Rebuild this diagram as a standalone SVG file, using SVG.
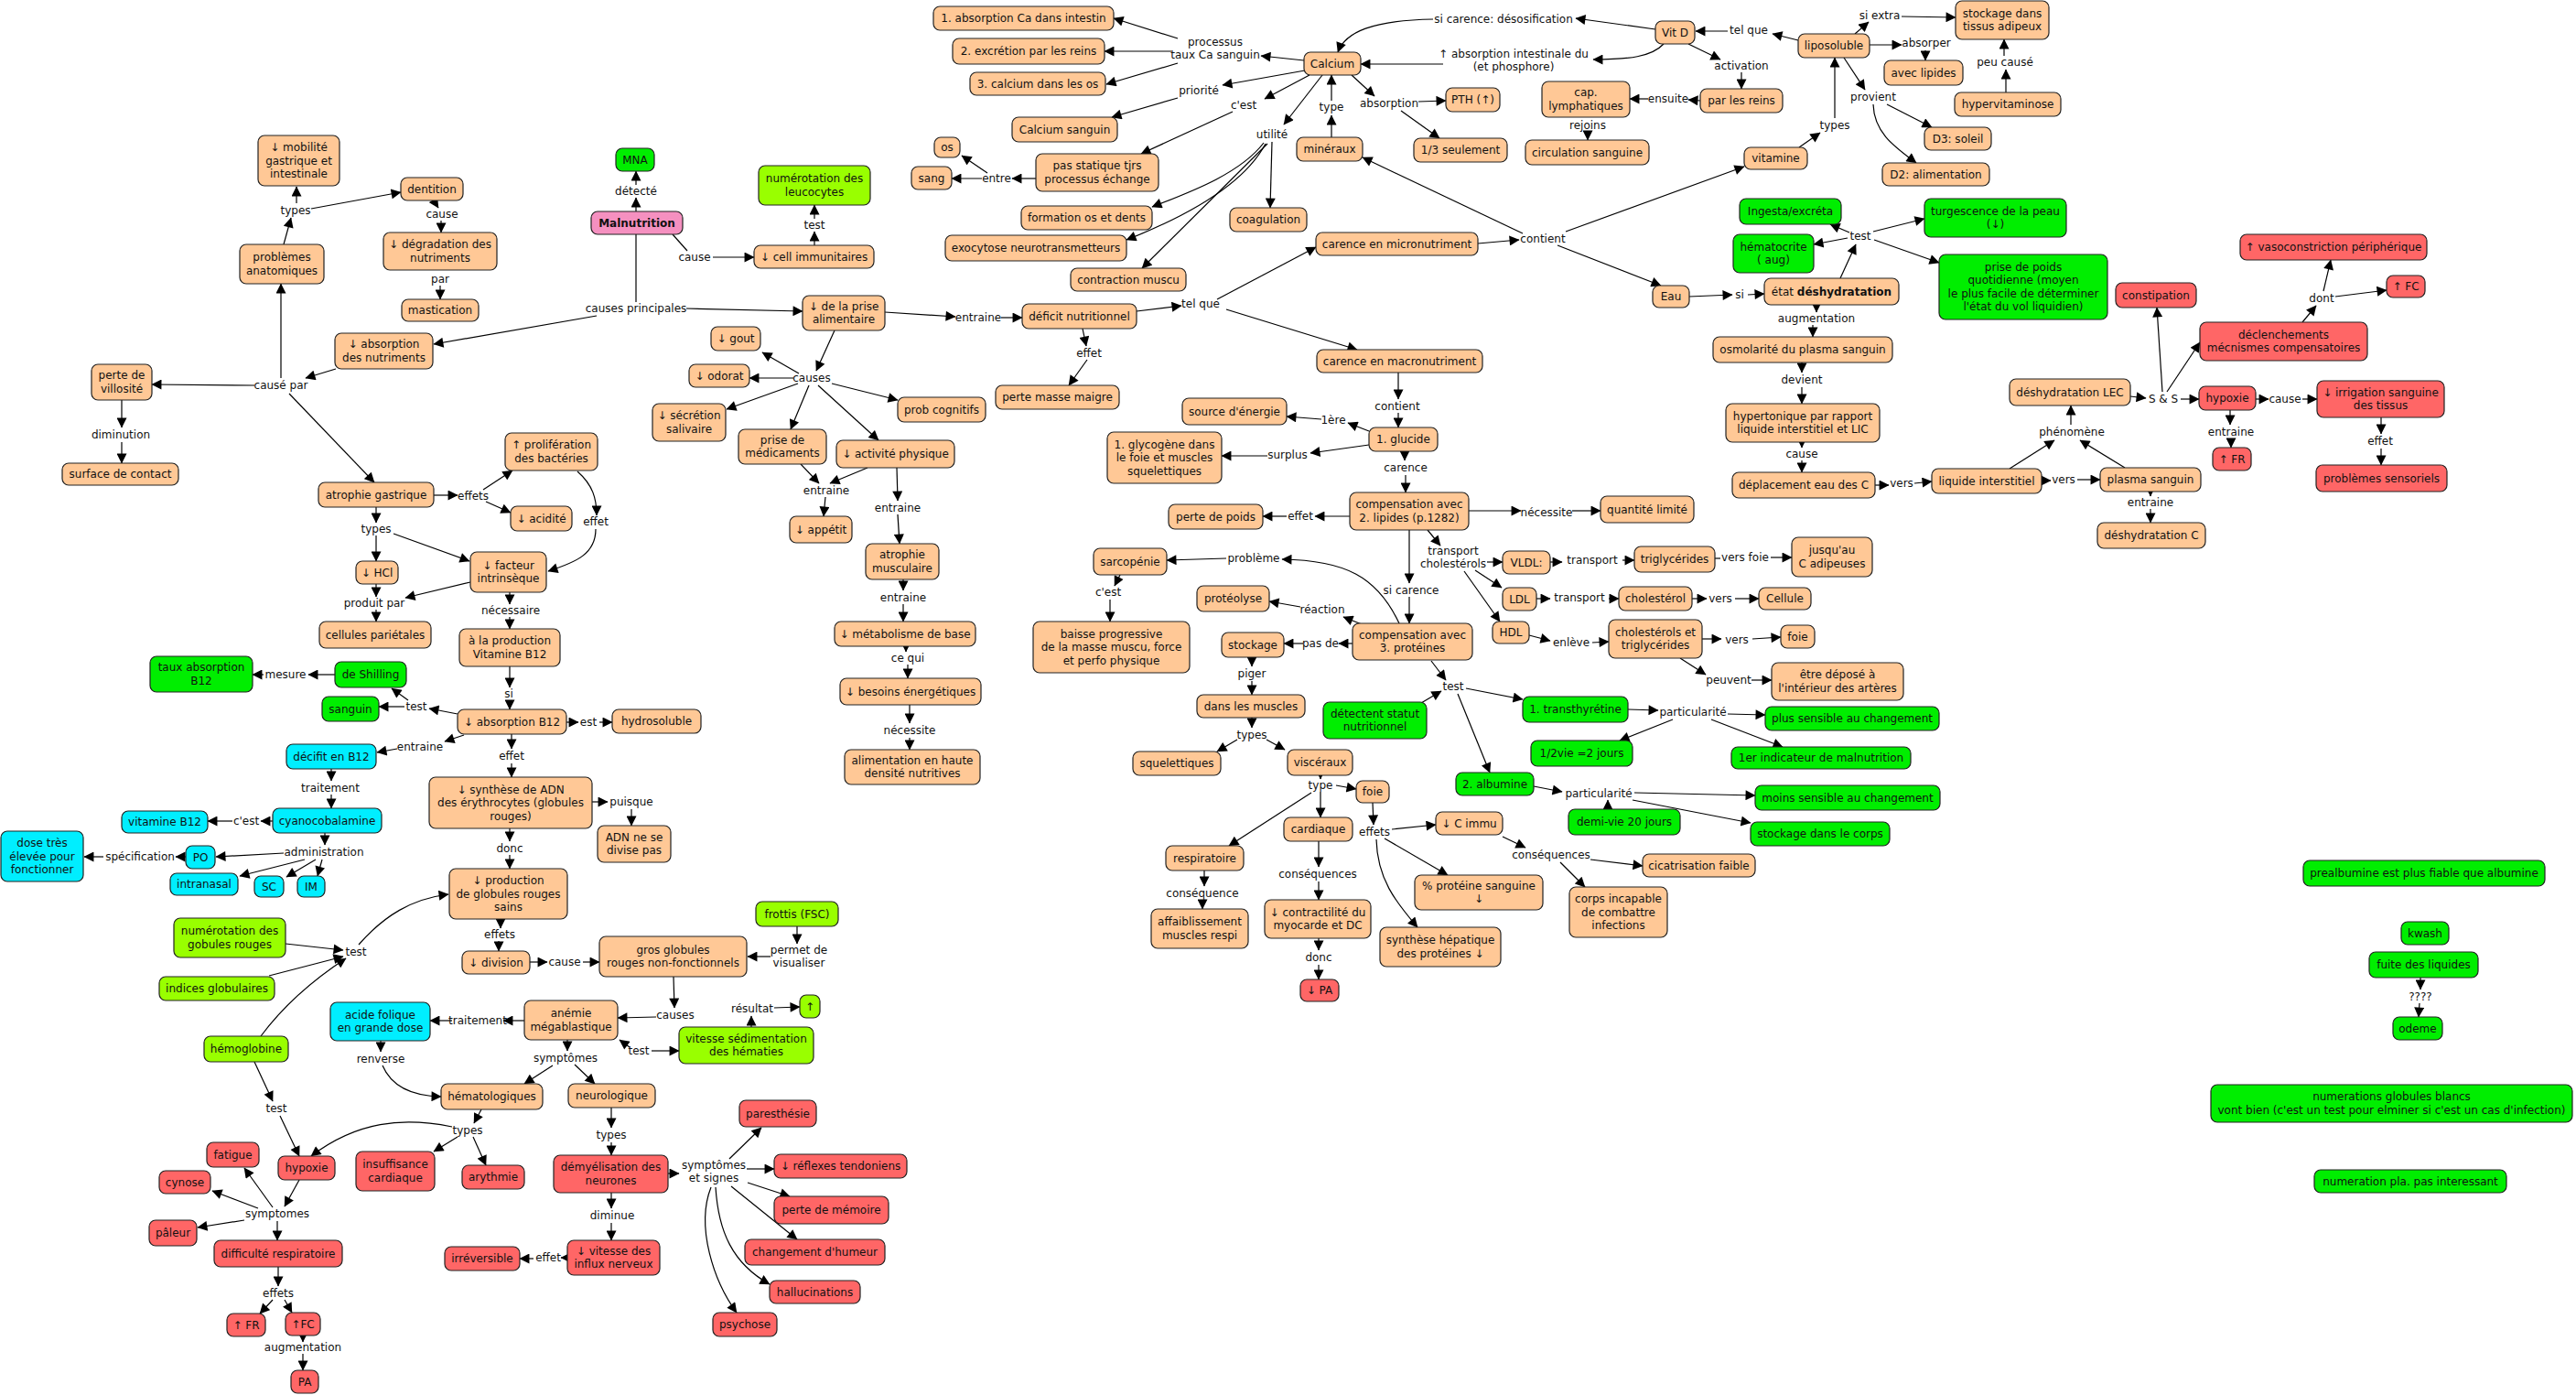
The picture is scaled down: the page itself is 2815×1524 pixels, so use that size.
<svg xmlns="http://www.w3.org/2000/svg" width="2815" height="1524" viewBox="0 0 2815 1524">
<style>
text{font-family:"DejaVu Sans",Verdana,sans-serif;font-size:12px;fill:#111;text-anchor:middle}
rect{stroke:#222;stroke-width:1.2;rx:7px;ry:7px}
.o{fill:#FFC896}.g{fill:#00EE00}.l{fill:#99FF00}.c{fill:#00EEFF}.r{fill:#FF6666}.p{fill:#F590C0}
.b{font-weight:bold}
#conn path{fill:none;stroke:#000;stroke-width:1.2;marker-end:url(#ah)}
#conn path.n{marker-end:none}
</style>
<defs>
<marker id="ah" viewBox="0 0 10 10" refX="9.5" refY="5" markerWidth="12" markerHeight="11" markerUnits="userSpaceOnUse" orient="auto"><path d="M0,0L10,5L0,10z" fill="#000"/></marker>
</defs>
<rect x="0" y="0" width="2815" height="1524" style="fill:#fff;stroke:none;rx:0"/>
<g id="conn">
<path d="M310,267L318,238"/>
<path d="M324,222L324,204"/>
<path d="M340,228L438,210"/>
<path d="M474,219L479,227"/>
<path d="M482,241L482,254"/>
<path d="M481,312L481,327"/>
<path d="M695,231L695,216"/>
<path d="M695,202L695,187"/>
<path class="n" d="M695,256L695,330"/>
<path d="M652,345L474,376"/>
<path d="M750,337L877,340"/>
<path d="M367,403L334,413"/>
<path d="M307,413L307,310"/>
<path d="M278,421L166,420"/>
<path d="M316,430L409,527"/>
<path d="M133,437L133,467"/>
<path d="M133,483L133,506"/>
<path d="M474,541L500,541"/>
<path d="M528,535L560,514"/>
<path d="M531,548L558,560"/>
<path d="M631,515C648,530 652,545 652,563"/>
<path d="M651,578C651,605 630,614 599,624"/>
<path d="M411,554L411,571"/>
<path d="M411,585L411,613"/>
<path d="M430,583L513,613"/>
<path d="M411,638L411,652"/>
<path d="M514,636L443,653"/>
<path d="M411,666L411,679"/>
<path d="M557,647L557,660"/>
<path d="M557,674L557,687"/>
<path d="M557,728L557,751"/>
<path d="M557,765L557,775"/>
<path d="M619,789L632,789"/>
<path d="M655,789L669,789"/>
<path d="M500,780L469,774"/>
<path d="M442,772L414,772"/>
<path d="M446,765L428,752"/>
<path d="M366,737L337,737"/>
<path d="M288,737L276,737"/>
<path d="M507,803L486,810"/>
<path d="M434,818L412,822"/>
<path d="M362,840L362,853"/>
<path d="M362,868L362,883"/>
<path d="M298,897L285,897"/>
<path d="M254,897L227,897"/>
<path d="M355,910L355,923"/>
<path d="M310,932L236,936"/>
<path d="M333,939L262,957"/>
<path d="M345,939L313,958"/>
<path d="M352,939L347,957"/>
<path d="M203,936L192,936"/>
<path d="M113,936L92,936"/>
<path d="M559,802L559,818"/>
<path d="M559,834L559,849"/>
<path d="M647,876L664,876"/>
<path d="M690,884L690,902"/>
<path d="M557,905L557,919"/>
<path d="M557,934L557,949"/>
<path d="M392,1032C420,1000 450,982 490,977"/>
<path d="M312,1031L375,1038"/>
<path d="M294,1066L375,1045"/>
<path d="M285,1132Q320,1085 378,1047"/>
<path d="M278,1160L298,1203"/>
<path d="M306,1219L327,1263"/>
<path d="M547,1004L547,1014"/>
<path d="M545,1028L545,1039"/>
<path d="M579,1051L598,1051"/>
<path d="M637,1051L655,1051"/>
<path d="M871,1012L871,1031"/>
<path d="M842,1045L817,1045"/>
<path d="M736,1067L737,1101"/>
<path d="M717,1111L675,1112"/>
<path d="M712,1148L742,1148"/>
<path d="M688,1144L677,1136"/>
<path d="M821,1122L821,1110"/>
<path d="M846,1101L874,1100"/>
<path d="M573,1115L550,1115"/>
<path d="M494,1115L470,1115"/>
<path d="M416,1137L416,1149"/>
<path d="M418,1164Q432,1197 482,1198"/>
<path d="M620,1136L620,1148"/>
<path d="M604,1164L573,1184"/>
<path d="M628,1163L650,1184"/>
<path d="M526,1212L518,1227"/>
<path d="M494,1231C440,1220 390,1225 340,1263"/>
<path d="M500,1242L474,1258"/>
<path d="M517,1242L531,1273"/>
<path d="M327,1289L311,1318"/>
<path d="M298,1319L267,1276"/>
<path d="M282,1320L232,1301"/>
<path d="M267,1333L216,1341"/>
<path d="M303,1334L303,1355"/>
<path d="M304,1384L304,1405"/>
<path d="M298,1420L284,1435"/>
<path d="M311,1420L319,1434"/>
<path d="M331,1459L331,1466"/>
<path d="M331,1479L331,1497"/>
<path d="M668,1210L668,1232"/>
<path d="M668,1248L668,1262"/>
<path d="M668,1303L668,1320"/>
<path d="M668,1336L668,1355"/>
<path d="M620,1374L613,1374"/>
<path d="M583,1375L568,1375"/>
<path d="M730,1282L742,1282"/>
<path d="M797,1266L832,1232"/>
<path d="M816,1277L846,1277"/>
<path d="M817,1292L863,1307"/>
<path d="M799,1296L871,1354"/>
<path d="M782,1297C785,1345 800,1380 841,1403"/>
<path d="M777,1297C760,1340 780,1400 805,1434"/>
<path class="n" d="M735,256L751,274"/>
<path d="M779,281L824,281"/>
<path d="M890,268L890,253"/>
<path d="M890,239L890,224"/>
<path d="M967,341L1044,346"/>
<path d="M1094,347L1117,347"/>
<path d="M1242,340L1291,334"/>
<path d="M1183,359L1187,378"/>
<path d="M1188,393L1168,421"/>
<path d="M912,361L892,405"/>
<path d="M873,408L833,385"/>
<path d="M867,413L819,413"/>
<path d="M872,419L794,447"/>
<path d="M884,421L864,469"/>
<path d="M909,419L981,437"/>
<path d="M894,421L960,481"/>
<path d="M875,507L895,528"/>
<path d="M948,511L907,528"/>
<path d="M902,543L900,564"/>
<path d="M980,511L981,547"/>
<path d="M981,562L983,594"/>
<path d="M987,633L987,645"/>
<path d="M987,660L987,679"/>
<path d="M990,706L990,712"/>
<path d="M992,726L992,741"/>
<path d="M994,770L994,790"/>
<path d="M994,806L994,819"/>
<path d="M1425,66L1378,61"/>
<path d="M1287,42L1217,20"/>
<path d="M1280,56L1207,56"/>
<path d="M1287,69L1209,92"/>
<path d="M1426,77L1336,93"/>
<path d="M1287,107L1215,128"/>
<path d="M1431,82L1382,108"/>
<path d="M1347,122L1247,168"/>
<path d="M1132,195L1106,195"/>
<path d="M1073,195L1040,195"/>
<path d="M1079,189L1051,170"/>
<path d="M1445,82L1403,136"/>
<path d="M1381,156C1355,190 1300,210 1259,226"/>
<path d="M1383,157C1360,200 1300,235 1231,262"/>
<path d="M1385,157L1248,293"/>
<path d="M1390,155L1388,227"/>
<path d="M1455,150L1455,126"/>
<path d="M1455,110L1455,82"/>
<path d="M1477,82L1502,105"/>
<path d="M1550,111L1580,110"/>
<path d="M1531,121L1573,151"/>
<path d="M1809,32L1722,20"/>
<path d="M1566,21C1500,22 1470,35 1462,57"/>
<path d="M1818,48C1805,62 1780,65 1741,65"/>
<path d="M1577,70L1487,70"/>
<path d="M1845,48L1880,65"/>
<path d="M1903,79L1903,97"/>
<path d="M1858,110L1845,109"/>
<path d="M1801,108L1781,108"/>
<path d="M1735,144L1735,153"/>
<path d="M1965,44L1937,37"/>
<path d="M1888,34L1853,34"/>
<path d="M2027,37L2042,24"/>
<path d="M2078,18L2137,19"/>
<path d="M2043,49L2078,49"/>
<path d="M2104,55L2104,66"/>
<path d="M2192,101L2192,76"/>
<path d="M2190,61L2190,43"/>
<path d="M2015,63L2038,98"/>
<path d="M2062,114L2111,139"/>
<path d="M2047,114C2048,145 2070,160 2094,178"/>
<path d="M1966,161L1989,145"/>
<path d="M2005,129L2005,63"/>
<path d="M1615,266L1660,262"/>
<path d="M1664,255L1489,172"/>
<path d="M1711,253L1906,182"/>
<path d="M1702,268L1815,312"/>
<path d="M1330,327L1438,270"/>
<path d="M1340,338L1483,382"/>
<path d="M1846,324L1893,322"/>
<path d="M1910,322L1928,321"/>
<path d="M2011,304L2028,267"/>
<path d="M2021,254L2000,245"/>
<path d="M2019,260L1982,267"/>
<path d="M2047,253L2103,239"/>
<path d="M2048,262L2119,287"/>
<path d="M1985,333L1985,341"/>
<path d="M1981,355L1981,368"/>
<path d="M1969,396L1969,407"/>
<path d="M1969,423L1969,441"/>
<path d="M1969,483L1969,489"/>
<path d="M1969,503L1969,516"/>
<path d="M2049,530L2064,530"/>
<path d="M2092,528L2111,526"/>
<path d="M2231,525L2241,525"/>
<path d="M2270,524L2295,524"/>
<path d="M2350,537L2350,542"/>
<path d="M2350,556L2350,571"/>
<path d="M2196,512L2245,481"/>
<path d="M2322,511L2273,481"/>
<path d="M2263,464L2263,443"/>
<path d="M2328,433L2345,435"/>
<path d="M2383,436L2403,436"/>
<path d="M2368,428L2404,374"/>
<path d="M2363,428L2357,336"/>
<path d="M2465,436L2479,436"/>
<path d="M2516,436L2532,436"/>
<path d="M2437,448L2437,464"/>
<path d="M2438,480L2438,489"/>
<path d="M2602,456L2602,474"/>
<path d="M2602,490L2602,508"/>
<path d="M2516,352L2531,334"/>
<path d="M2539,318L2547,284"/>
<path d="M2552,324L2608,317"/>
<path d="M1528,407L1528,436"/>
<path d="M1528,451L1528,467"/>
<path d="M1496,471L1473,462"/>
<path d="M1444,458L1406,455"/>
<path d="M1496,486L1432,495"/>
<path d="M1385,498L1335,498"/>
<path d="M1535,493L1535,503"/>
<path d="M1536,519L1536,538"/>
<path d="M1475,564L1437,564"/>
<path d="M1406,564L1380,564"/>
<path d="M1605,558L1662,558"/>
<path d="M1718,558L1749,558"/>
<path d="M1560,579L1574,596"/>
<path d="M1625,614L1642,614"/>
<path d="M1612,623L1641,642"/>
<path d="M1600,624L1639,679"/>
<path d="M1694,614L1707,614"/>
<path d="M1773,612L1786,612"/>
<path class="n" d="M1874,610L1880,610"/>
<path d="M1935,609L1958,609"/>
<path d="M1679,654L1694,654"/>
<path d="M1758,654L1769,654"/>
<path d="M1849,654L1865,654"/>
<path d="M1896,654L1922,654"/>
<path d="M1671,694L1694,700"/>
<path d="M1740,702L1758,701"/>
<path d="M1860,698L1881,698"/>
<path d="M1915,698L1946,696"/>
<path d="M1836,719L1864,737"/>
<path d="M1914,743L1936,743"/>
<path d="M1540,579L1540,637"/>
<path d="M1540,652L1540,681"/>
<path d="M1529,681C1505,630 1470,612 1401,611"/>
<path d="M1340,610L1275,612"/>
<path d="M1224,628L1218,640"/>
<path d="M1213,655L1213,679"/>
<path d="M1488,682L1468,674"/>
<path d="M1421,663L1387,657"/>
<path d="M1478,703L1463,703"/>
<path d="M1424,703L1403,703"/>
<path d="M1368,718L1368,728"/>
<path d="M1368,744L1368,759"/>
<path d="M1368,784L1368,795"/>
<path d="M1352,808L1330,821"/>
<path d="M1384,808L1404,819"/>
<path d="M1443,847L1443,851"/>
<path d="M1460,858L1482,862"/>
<path d="M1443,865L1443,893"/>
<path d="M1433,866L1343,924"/>
<path d="M1316,951L1316,968"/>
<path d="M1314,984L1314,993"/>
<path d="M1441,919L1441,947"/>
<path d="M1441,963L1441,983"/>
<path d="M1441,1025L1441,1038"/>
<path d="M1441,1054L1441,1070"/>
<path d="M1500,877L1501,901"/>
<path d="M1521,906L1569,901"/>
<path d="M1513,916L1582,956"/>
<path d="M1504,917C1505,960 1525,985 1549,1013"/>
<path d="M1642,914L1667,926"/>
<path d="M1738,939L1795,946"/>
<path d="M1705,942L1732,969"/>
<path d="M1564,722L1580,743"/>
<path d="M1553,768L1575,755"/>
<path d="M1602,752L1664,764"/>
<path d="M1593,758L1628,844"/>
<path d="M1779,775L1812,776"/>
<path d="M1888,780L1929,781"/>
<path d="M1828,786L1770,809"/>
<path d="M1870,786L1948,816"/>
<path d="M1676,859L1707,865"/>
<path d="M1786,866L1918,869"/>
<path d="M1757,884L1757,874"/>
<path d="M1784,874L1913,899"/>
<path d="M2645,1068L2645,1081"/>
<path d="M2644,1096L2643,1111"/>
</g>
<g id="labels">
<text x="323" y="234">types</text>
<text x="483" y="238">cause</text>
<text x="481" y="309">par</text>
<text x="695" y="213">détecté</text>
<text x="307" y="425">causé par</text>
<text x="132" y="479">diminution</text>
<text x="517" y="546">effets</text>
<text x="695" y="341">causes principales</text>
<text x="651" y="574">effet</text>
<text x="411" y="582">types</text>
<text x="409" y="663">produit par</text>
<text x="558" y="671">nécessaire</text>
<text x="312" y="741">mesure</text>
<text x="455" y="776">test</text>
<text x="556" y="762">si</text>
<text x="643" y="793">est</text>
<text x="459" y="820">entraine</text>
<text x="559" y="830">effet</text>
<text x="361" y="865">traitement</text>
<text x="269" y="901">c'est</text>
<text x="690" y="880">puisque</text>
<text x="354" y="935">administration</text>
<text x="153" y="940">spécification</text>
<text x="557" y="931">donc</text>
<text x="389" y="1044">test</text>
<text x="546" y="1025">effets</text>
<text x="617" y="1055">cause</text>
<text x="873" y="1041.75">permet de<tspan x="873" dy="14.5">visualiser</tspan></text>
<text x="738" y="1113">causes</text>
<text x="822" y="1106">résultat</text>
<text x="522" y="1119">traitement</text>
<text x="416" y="1161">renverse</text>
<text x="618" y="1160">symptômes</text>
<text x="698" y="1152">test</text>
<text x="302" y="1215">test</text>
<text x="511" y="1239">types</text>
<text x="668" y="1244">types</text>
<text x="303" y="1330">symptomes</text>
<text x="669" y="1332">diminue</text>
<text x="599" y="1378">effet</text>
<text x="304" y="1417">effets</text>
<text x="331" y="1476">augmentation</text>
<text x="780" y="1276.75">symptômes<tspan x="780" dy="14.5">et signes</tspan></text>
<text x="759" y="285">cause</text>
<text x="890" y="250">test</text>
<text x="1069" y="351">entraine</text>
<text x="1312" y="336">tel que</text>
<text x="1190" y="390">effet</text>
<text x="887" y="417">causes</text>
<text x="903" y="540">entraine</text>
<text x="981" y="559">entraine</text>
<text x="987" y="657">entraine</text>
<text x="992" y="723">ce qui</text>
<text x="994" y="802">nécessite</text>
<text x="1211" y="651">c'est</text>
<text x="1368" y="740">piger</text>
<text x="1368" y="807">types</text>
<text x="1328" y="49.75">processus<tspan x="1328" dy="14.5">taux Ca sanguin</tspan></text>
<text x="1643" y="25">si carence: désosification</text>
<text x="1654" y="62.75">↑ absorption intestinale du<tspan x="1654" dy="14.5">(et phosphore)</tspan></text>
<text x="1310" y="103">priorité</text>
<text x="1359" y="119">c'est</text>
<text x="1455" y="121">type</text>
<text x="1518" y="117">absorption</text>
<text x="1823" y="112">ensuite</text>
<text x="1735" y="141">rejoins</text>
<text x="1390" y="151">utilité</text>
<text x="1089" y="199">entre</text>
<text x="1686" y="265">contient</text>
<text x="1527" y="448">contient</text>
<text x="1457" y="463">1ère</text>
<text x="1407" y="501">surplus</text>
<text x="1536" y="515">carence</text>
<text x="1421" y="568">effet</text>
<text x="1690" y="564">nécessite</text>
<text x="1588" y="605.75">transport<tspan x="1588" dy="14.5">cholestérols</tspan></text>
<text x="1740" y="616">transport</text>
<text x="1907" y="613">vers foie</text>
<text x="1370" y="614">problème</text>
<text x="1542" y="649">si carence</text>
<text x="1726" y="657">transport</text>
<text x="1880" y="658">vers</text>
<text x="1445" y="670">réaction</text>
<text x="1717" y="706">enlève</text>
<text x="1898" y="703">vers</text>
<text x="1889" y="747">peuvent</text>
<text x="1443" y="707">pas de</text>
<text x="1588" y="754">test</text>
<text x="1850" y="782">particularité</text>
<text x="1747" y="871">particularité</text>
<text x="1443" y="862">type</text>
<text x="1502" y="913">effets</text>
<text x="1440" y="959">conséquences</text>
<text x="1314" y="980">conséquence</text>
<text x="1695" y="938">conséquences</text>
<text x="1441" y="1050">donc</text>
<text x="1911" y="37">tel que</text>
<text x="2054" y="21">si extra</text>
<text x="2105" y="51">absorper</text>
<text x="2191" y="72">peu causé</text>
<text x="1903" y="76">activation</text>
<text x="2047" y="110">provient</text>
<text x="2005" y="141">types</text>
<text x="2033" y="262">test</text>
<text x="1901" y="326">si</text>
<text x="1985" y="352">augmentation</text>
<text x="1969" y="419">devient</text>
<text x="1969" y="500">cause</text>
<text x="2078" y="532">vers</text>
<text x="2255" y="528">vers</text>
<text x="2350" y="553">entraine</text>
<text x="2264" y="476">phénomène</text>
<text x="2364" y="440">S &amp; S</text>
<text x="2438" y="476">entraine</text>
<text x="2497" y="440">cause</text>
<text x="2601" y="486">effet</text>
<text x="2537" y="330">dont</text>
<text x="2645" y="1093">????</text>
</g>
<g id="n_mob"><rect class="o" x="282" y="148" width="89" height="55"/><text x="326.5" y="165">↓ mobilité<tspan x="326.5" dy="14.5">gastrique et</tspan><tspan x="326.5" dy="14.5">intestinale</tspan></text></g>
<g id="n_dent"><rect class="o" x="438" y="194" width="68" height="25"/><text x="472" y="210.5">dentition</text></g>
<g id="n_degr"><rect class="o" x="419" y="254" width="124" height="41"/><text x="481" y="271">↓ dégradation des<tspan x="481" dy="14.5">nutriments</tspan></text></g>
<g id="n_mast"><rect class="o" x="439" y="327" width="84" height="24"/><text x="481" y="343">mastication</text></g>
<g id="n_prob"><rect class="o" x="262" y="267" width="92" height="43"/><text x="308" y="285">problèmes<tspan x="308" dy="14.5">anatomiques</tspan></text></g>
<g id="n_absn"><rect class="o" x="366" y="364" width="107" height="39"/><text x="419.5" y="380">↓ absorption<tspan x="419.5" dy="14.5">des nutriments</tspan></text></g>
<g id="n_vill"><rect class="o" x="100" y="398" width="66" height="39"/><text x="133" y="414">perte de<tspan x="133" dy="14.5">villosité</tspan></text></g>
<g id="n_surf"><rect class="o" x="68" y="506" width="127" height="24"/><text x="131.5" y="522">surface de contact</text></g>
<g id="n_atrg"><rect class="o" x="348" y="527" width="126" height="27"/><text x="411" y="544.5">atrophie gastrique</text></g>
<g id="n_prol"><rect class="o" x="552" y="473" width="101" height="41"/><text x="602.5" y="490">↑ prolifération<tspan x="602.5" dy="14.5">des bactéries</tspan></text></g>
<g id="n_acid"><rect class="o" x="558" y="553" width="67" height="27"/><text x="591.5" y="570.5">↓ acidité</text></g>
<g id="n_hcl"><rect class="o" x="389" y="613" width="46" height="25"/><text x="412" y="629.5">↓ HCl</text></g>
<g id="n_fact"><rect class="o" x="514" y="603" width="83" height="44"/><text x="555.5" y="621.75">↓ facteur<tspan x="555.5" dy="14.5">intrinsèque</tspan></text></g>
<g id="n_cell"><rect class="o" x="349" y="679" width="122" height="29"/><text x="410" y="697.5">cellules pariétales</text></g>
<g id="n_prod"><rect class="o" x="502" y="687" width="110" height="41"/><text x="557" y="704">à la production<tspan x="557" dy="14.5">Vitamine B12</tspan></text></g>
<g id="n_absb"><rect class="o" x="500" y="775" width="119" height="27"/><text x="559.5" y="792.5">↓ absorption B12</text></g>
<g id="n_hydr"><rect class="o" x="669" y="775" width="97" height="26"/><text x="717.5" y="792">hydrosoluble</text></g>
<g id="n_synt"><rect class="o" x="469" y="849" width="178" height="56"/><text x="558" y="866.5">↓ synthèse de ADN<tspan x="558" dy="14.5">des érythrocytes (globules</tspan><tspan x="558" dy="14.5">rouges)</tspan></text></g>
<g id="n_adn"><rect class="o" x="653" y="902" width="80" height="40"/><text x="693" y="918.75">ADN ne se<tspan x="693" dy="14.5">divise pas</tspan></text></g>
<g id="n_prgr"><rect class="o" x="491" y="949" width="129" height="55"/><text x="555.5" y="966">↓ production<tspan x="555.5" dy="14.5">de globules rouges</tspan><tspan x="555.5" dy="14.5">sains</tspan></text></g>
<g id="n_divi"><rect class="o" x="505" y="1039" width="74" height="25"/><text x="542" y="1055.5">↓ division</text></g>
<g id="n_gros"><rect class="o" x="655" y="1023" width="161" height="44"/><text x="735.5" y="1041.75">gros globules<tspan x="735.5" dy="14.5">rouges non-fonctionnels</tspan></text></g>
<g id="n_anem"><rect class="o" x="573" y="1093" width="102" height="43"/><text x="624" y="1111">anémie<tspan x="624" dy="14.5">mégablastique</tspan></text></g>
<g id="n_hema"><rect class="o" x="482" y="1184" width="111" height="28"/><text x="537.5" y="1202">hématologiques</text></g>
<g id="n_neur"><rect class="o" x="621" y="1184" width="95" height="26"/><text x="668.5" y="1201">neurologique</text></g>
<g id="n_cimm"><rect class="o" x="824" y="268" width="131" height="25"/><text x="889.5" y="284.5">↓ cell immunitaires</text></g>
<g id="n_pris"><rect class="o" x="877" y="323" width="90" height="38"/><text x="922" y="338.75">↓ de la prise<tspan x="922" dy="14.5">alimentaire</tspan></text></g>
<g id="n_defi"><rect class="o" x="1117" y="332" width="125" height="27"/><text x="1179.5" y="349.5">déficit nutritionnel</text></g>
<g id="n_pmm"><rect class="o" x="1088" y="421" width="135" height="26"/><text x="1155.5" y="438">perte masse maigre</text></g>
<g id="n_gout"><rect class="o" x="777" y="357" width="54" height="26"/><text x="804" y="374">↓ gout</text></g>
<g id="n_odor"><rect class="o" x="753" y="398" width="66" height="25"/><text x="786" y="414.5">↓ odorat</text></g>
<g id="n_secr"><rect class="o" x="713" y="441" width="80" height="41"/><text x="753" y="458">↓ sécrétion<tspan x="753" dy="14.5">salivaire</tspan></text></g>
<g id="n_medi"><rect class="o" x="807" y="469" width="96" height="38"/><text x="855" y="484.75">prise de<tspan x="855" dy="14.5">médicaments</tspan></text></g>
<g id="n_cogn"><rect class="o" x="981" y="434" width="96" height="27"/><text x="1029" y="451.5">prob cognitifs</text></g>
<g id="n_acti"><rect class="o" x="914" y="481" width="129" height="30"/><text x="978.5" y="500">↓ activité physique</text></g>
<g id="n_appe"><rect class="o" x="863" y="564" width="68" height="29"/><text x="897" y="582.5">↓ appétit</text></g>
<g id="n_atrm"><rect class="o" x="946" y="594" width="80" height="39"/><text x="986" y="610">atrophie<tspan x="986" dy="14.5">musculaire</tspan></text></g>
<g id="n_meta"><rect class="o" x="912" y="679" width="154" height="27"/><text x="989" y="696.5">↓ métabolisme de base</text></g>
<g id="n_beso"><rect class="o" x="918" y="741" width="154" height="29"/><text x="995" y="759.5">↓ besoins énergétiques</text></g>
<g id="n_alim"><rect class="o" x="923" y="819" width="148" height="38"/><text x="997" y="834.75">alimentation en haute<tspan x="997" dy="14.5">densité nutritives</tspan></text></g>
<g id="n_ca1"><rect class="o" x="1020" y="7" width="197" height="26"/><text x="1118.5" y="24">1. absorption Ca dans intestin</text></g>
<g id="n_ca2"><rect class="o" x="1041" y="42" width="166" height="28"/><text x="1124" y="60">2. excrétion par les reins</text></g>
<g id="n_ca3"><rect class="o" x="1060" y="79" width="148" height="25"/><text x="1134" y="95.5">3. calcium dans les os</text></g>
<g id="n_calc"><rect class="o" x="1425" y="57" width="62" height="25"/><text x="1456" y="73.5">Calcium</text></g>
<g id="n_vitd"><rect class="o" x="1809" y="23" width="43" height="25"/><text x="1830.5" y="39.5">Vit D</text></g>
<g id="n_pth"><rect class="o" x="1580" y="96" width="59" height="26"/><text x="1609.5" y="113">PTH (↑)</text></g>
<g id="n_cap"><rect class="o" x="1685" y="89" width="96" height="39"/><text x="1733" y="105">cap.<tspan x="1733" dy="14.5">lymphatiques</tspan></text></g>
<g id="n_reins"><rect class="o" x="1858" y="97" width="90" height="26"/><text x="1903" y="114">par les reins</text></g>
<g id="n_circ"><rect class="o" x="1667" y="153" width="135" height="27"/><text x="1734.5" y="170.5">circulation sanguine</text></g>
<g id="n_casg"><rect class="o" x="1106" y="128" width="115" height="27"/><text x="1163.5" y="145.5">Calcium sanguin</text></g>
<g id="n_mine"><rect class="o" x="1417" y="150" width="72" height="26"/><text x="1453" y="167">minéraux</text></g>
<g id="n_tier"><rect class="o" x="1545" y="151" width="102" height="26"/><text x="1596" y="168">1/3 seulement</text></g>
<g id="n_os"><rect class="o" x="1021" y="150" width="28" height="22"/><text x="1035" y="165">os</text></g>
<g id="n_sang"><rect class="o" x="996" y="182" width="44" height="25"/><text x="1018" y="198.5">sang</text></g>
<g id="n_stat"><rect class="o" x="1132" y="168" width="134" height="41"/><text x="1199" y="185">pas statique tjrs<tspan x="1199" dy="14.5">processus échange</tspan></text></g>
<g id="n_form"><rect class="o" x="1116" y="225" width="143" height="26"/><text x="1187.5" y="242">formation os et dents</text></g>
<g id="n_coag"><rect class="o" x="1344" y="227" width="84" height="26"/><text x="1386" y="244">coagulation</text></g>
<g id="n_exo"><rect class="o" x="1033" y="257" width="198" height="28"/><text x="1132" y="275">exocytose neurotransmetteurs</text></g>
<g id="n_contr"><rect class="o" x="1170" y="293" width="126" height="25"/><text x="1233" y="309.5">contraction muscu</text></g>
<g id="n_micr"><rect class="o" x="1438" y="254" width="177" height="25"/><text x="1526.5" y="270.5">carence en micronutriment</text></g>
<g id="n_eau"><rect class="o" x="1806" y="312" width="40" height="24"/><text x="1826" y="328">Eau</text></g>
<g id="n_macr"><rect class="o" x="1439" y="382" width="181" height="25"/><text x="1529.5" y="398.5">carence en macronutriment</text></g>
<g id="n_src"><rect class="o" x="1292" y="435" width="114" height="29"/><text x="1349" y="453.5">source d'énergie</text></g>
<g id="n_glyc"><rect class="o" x="1210" y="472" width="125" height="56"/><text x="1272.5" y="489.5">1. glycogène dans<tspan x="1272.5" dy="14.5">le foie et muscles</tspan><tspan x="1272.5" dy="14.5">squelettiques</tspan></text></g>
<g id="n_gluc"><rect class="o" x="1496" y="467" width="75" height="26"/><text x="1533.5" y="484">1. glucide</text></g>
<g id="n_lip"><rect class="o" x="1475" y="538" width="130" height="41"/><text x="1540" y="555">compensation avec<tspan x="1540" dy="14.5">2. lipides (p.1282)</tspan></text></g>
<g id="n_ppoi"><rect class="o" x="1277" y="551" width="103" height="27"/><text x="1328.5" y="568.5">perte de poids</text></g>
<g id="n_qlim"><rect class="o" x="1749" y="542" width="102" height="29"/><text x="1800" y="560.5">quantité limité</text></g>
<g id="n_vldl"><rect class="o" x="1642" y="602" width="52" height="25"/><text x="1668" y="618.5">VLDL:</text></g>
<g id="n_trig"><rect class="o" x="1786" y="597" width="88" height="28"/><text x="1830" y="615">triglycérides</text></g>
<g id="n_jusq"><rect class="o" x="1958" y="587" width="88" height="43"/><text x="2002" y="605">jusqu'au<tspan x="2002" dy="14.5">C adipeuses</tspan></text></g>
<g id="n_sarc"><rect class="o" x="1195" y="599" width="80" height="29"/><text x="1235" y="617.5">sarcopénie</text></g>
<g id="n_bais"><rect class="o" x="1129" y="679" width="171" height="56"/><text x="1214.5" y="696.5">baisse progressive<tspan x="1214.5" dy="14.5">de la masse muscu, force</tspan><tspan x="1214.5" dy="14.5">et perfo physique</tspan></text></g>
<g id="n_prot"><rect class="o" x="1308" y="640" width="79" height="28"/><text x="1347.5" y="658">protéolyse</text></g>
<g id="n_ldl"><rect class="o" x="1642" y="642" width="37" height="25"/><text x="1660.5" y="658.5">LDL</text></g>
<g id="n_chol"><rect class="o" x="1769" y="641" width="80" height="26"/><text x="1809" y="658">cholestérol</text></g>
<g id="n_cellu"><rect class="o" x="1922" y="642" width="57" height="24"/><text x="1950.5" y="658">Cellule</text></g>
<g id="n_hdl"><rect class="o" x="1631" y="679" width="40" height="24"/><text x="1651" y="695">HDL</text></g>
<g id="n_ctri"><rect class="o" x="1758" y="677" width="102" height="42"/><text x="1809" y="694.75">cholestérols et<tspan x="1809" dy="14.5">triglycérides</tspan></text></g>
<g id="n_foie1"><rect class="o" x="1946" y="683" width="37" height="25"/><text x="1964.5" y="699.5">foie</text></g>
<g id="n_depo"><rect class="o" x="1936" y="724" width="144" height="41"/><text x="2008" y="741">être déposé à<tspan x="2008" dy="14.5">l'intérieur des artères</tspan></text></g>
<g id="n_comp3"><rect class="o" x="1478" y="681" width="131" height="40"/><text x="1543.5" y="697.75">compensation avec<tspan x="1543.5" dy="14.5">3. protéines</tspan></text></g>
<g id="n_stoc"><rect class="o" x="1335" y="691" width="68" height="27"/><text x="1369" y="708.5">stockage</text></g>
<g id="n_musc"><rect class="o" x="1308" y="759" width="118" height="25"/><text x="1367" y="775.5">dans les muscles</text></g>
<g id="n_sque"><rect class="o" x="1238" y="821" width="96" height="26"/><text x="1286" y="838">squelettiques</text></g>
<g id="n_visc"><rect class="o" x="1407" y="819" width="71" height="28"/><text x="1442.5" y="837">viscéraux</text></g>
<g id="n_foie2"><rect class="o" x="1482" y="853" width="36" height="24"/><text x="1500" y="869">foie</text></g>
<g id="n_card"><rect class="o" x="1403" y="893" width="75" height="26"/><text x="1440.5" y="910">cardiaque</text></g>
<g id="n_cimu"><rect class="o" x="1569" y="887" width="73" height="25"/><text x="1605.5" y="903.5">↓ C immu</text></g>
<g id="n_resp"><rect class="o" x="1274" y="924" width="85" height="27"/><text x="1316.5" y="941.5">respiratoire</text></g>
<g id="n_cica"><rect class="o" x="1795" y="933" width="123" height="25"/><text x="1856.5" y="949.5">cicatrisation faible</text></g>
<g id="n_pct"><rect class="o" x="1546" y="956" width="140" height="38"/><text x="1616" y="971.75">% protéine sanguine<tspan x="1616" dy="14.5">↓</tspan></text></g>
<g id="n_corp"><rect class="o" x="1715" y="969" width="107" height="55"/><text x="1768.5" y="986">corps incapable<tspan x="1768.5" dy="14.5">de combattre</tspan><tspan x="1768.5" dy="14.5">infections</tspan></text></g>
<g id="n_affa"><rect class="o" x="1258" y="993" width="106" height="43"/><text x="1311" y="1011">affaiblissement<tspan x="1311" dy="14.5">muscles respi</tspan></text></g>
<g id="n_myoc"><rect class="o" x="1382" y="983" width="116" height="42"/><text x="1440" y="1000.75">↓ contractilité du<tspan x="1440" dy="14.5">myocarde et DC</tspan></text></g>
<g id="n_synh"><rect class="o" x="1508" y="1013" width="132" height="43"/><text x="1574" y="1031">synthèse hépatique<tspan x="1574" dy="14.5">des protéines ↓</tspan></text></g>
<g id="n_lipo"><rect class="o" x="1965" y="37" width="78" height="26"/><text x="2004" y="54">liposoluble</text></g>
<g id="n_stad"><rect class="o" x="2137" y="1" width="102" height="42"/><text x="2188" y="18.75">stockage dans<tspan x="2188" dy="14.5">tissus adipeux</tspan></text></g>
<g id="n_avec"><rect class="o" x="2059" y="66" width="86" height="27"/><text x="2102" y="83.5">avec lipides</text></g>
<g id="n_hyper"><rect class="o" x="2136" y="101" width="116" height="26"/><text x="2194" y="118">hypervitaminose</text></g>
<g id="n_d3"><rect class="o" x="2103" y="139" width="73" height="25"/><text x="2139.5" y="155.5">D3: soleil</text></g>
<g id="n_vita"><rect class="o" x="1906" y="161" width="69" height="24"/><text x="1940.5" y="177">vitamine</text></g>
<g id="n_d2"><rect class="o" x="2057" y="178" width="117" height="25"/><text x="2115.5" y="194.5">D2: alimentation</text></g>
<g id="n_etat"><rect class="o" x="1928" y="304" width="147" height="29"/><text x="2001.5" y="322.5">état <tspan class="b">déshydratation</tspan></text></g>
<g id="n_osmo"><rect class="o" x="1872" y="368" width="196" height="28"/><text x="1970" y="386">osmolarité du plasma sanguin</text></g>
<g id="n_hypt"><rect class="o" x="1886" y="441" width="168" height="42"/><text x="1970" y="458.75">hypertonique par rapport<tspan x="1970" dy="14.5">liquide interstitiel et LIC</tspan></text></g>
<g id="n_depl"><rect class="o" x="1893" y="516" width="156" height="28"/><text x="1971" y="534">déplacement eau des C</text></g>
<g id="n_liqi"><rect class="o" x="2111" y="512" width="120" height="27"/><text x="2171" y="529.5">liquide interstitiel</text></g>
<g id="n_plas"><rect class="o" x="2295" y="511" width="110" height="26"/><text x="2350" y="528">plasma sanguin</text></g>
<g id="n_dehc"><rect class="o" x="2292" y="571" width="118" height="28"/><text x="2351" y="589">déshydratation C</text></g>
<g id="n_dlec"><rect class="o" x="2196" y="414" width="132" height="29"/><text x="2262" y="432.5">déshydratation LEC</text></g>
<g id="n_mal"><rect class="p" x="646" y="231" width="100" height="25"/><text class="b" x="696" y="247.5">Malnutrition</text></g>
<g id="n_mna"><rect class="g" x="673" y="162" width="42" height="25"/><text x="694" y="178.5">MNA</text></g>
<g id="n_taux"><rect class="g" x="164" y="717" width="112" height="39"/><text x="220" y="733">taux absorption<tspan x="220" dy="14.5">B12</tspan></text></g>
<g id="n_shil"><rect class="g" x="366" y="723" width="78" height="28"/><text x="405" y="741">de Shilling</text></g>
<g id="n_sgn"><rect class="g" x="352" y="761" width="62" height="27"/><text x="383" y="778.5">sanguin</text></g>
<g id="n_dete"><rect class="g" x="1446" y="767" width="113" height="40"/><text x="1502.5" y="783.75">détectent statut<tspan x="1502.5" dy="14.5">nutritionnel</tspan></text></g>
<g id="n_tran"><rect class="g" x="1664" y="761" width="115" height="28"/><text x="1721.5" y="779">1. transthyrétine</text></g>
<g id="n_plus"><rect class="g" x="1929" y="772" width="190" height="26"/><text x="2024" y="789">plus sensible au changement</text></g>
<g id="n_demi1"><rect class="g" x="1673" y="809" width="111" height="28"/><text x="1728.5" y="827">1/2vie =2 jours</text></g>
<g id="n_ind"><rect class="g" x="1892" y="816" width="196" height="24"/><text x="1990" y="832">1er indicateur de malnutrition</text></g>
<g id="n_albu"><rect class="g" x="1591" y="844" width="85" height="25"/><text x="1633.5" y="860.5">2. albumine</text></g>
<g id="n_moin"><rect class="g" x="1918" y="858" width="202" height="27"/><text x="2019" y="875.5">moins sensible au changement</text></g>
<g id="n_demi2"><rect class="g" x="1714" y="884" width="122" height="28"/><text x="1775" y="902">demi-vie 20 jours</text></g>
<g id="n_stcp"><rect class="g" x="1913" y="898" width="152" height="26"/><text x="1989" y="915">stockage dans le corps</text></g>
<g id="n_inge"><rect class="g" x="1901" y="217" width="111" height="28"/><text x="1956.5" y="235">Ingesta/excréta</text></g>
<g id="n_turg"><rect class="g" x="2103" y="217" width="155" height="42"/><text x="2180.5" y="234.75">turgescence de la peau<tspan x="2180.5" dy="14.5">(↓)</tspan></text></g>
<g id="n_hemc"><rect class="g" x="1894" y="256" width="88" height="42"/><text x="1938" y="273.75">hématocrite<tspan x="1938" dy="14.5">( aug)</tspan></text></g>
<g id="n_pdp"><rect class="g" x="2119" y="278" width="184" height="71"/><text x="2211" y="295.75">prise de poids<tspan x="2211" dy="14.5">quotidienne (moyen</tspan><tspan x="2211" dy="14.5">le plus facile de déterminer</tspan><tspan x="2211" dy="14.5">l'état du vol liquidien)</tspan></text></g>
<g id="n_prea"><rect class="g" x="2517" y="940" width="264" height="28"/><text x="2649" y="958">prealbumine est plus fiable que albumine</text></g>
<g id="n_kwas"><rect class="g" x="2624" y="1007" width="52" height="25"/><text x="2650" y="1023.5">kwash</text></g>
<g id="n_fuit"><rect class="g" x="2589" y="1040" width="119" height="28"/><text x="2648.5" y="1058">fuite des liquides</text></g>
<g id="n_odem"><rect class="g" x="2615" y="1111" width="54" height="25"/><text x="2642" y="1127.5">odeme</text></g>
<g id="n_gb"><rect class="g" x="2416" y="1185" width="395" height="41"/><text x="2613.5" y="1202">numerations globules blancs<tspan x="2613.5" dy="14.5">vont bien (c'est un test pour elminer si c'est un cas d'infection)</tspan></text></g>
<g id="n_npla"><rect class="g" x="2529" y="1278" width="210" height="25"/><text x="2634" y="1294.5">numeration pla. pas interessant</text></g>
<g id="n_leuc"><rect class="l" x="829" y="181" width="122" height="43"/><text x="890" y="199">numérotation des<tspan x="890" dy="14.5">leucocytes</tspan></text></g>
<g id="n_nugr"><rect class="l" x="190" y="1003" width="122" height="43"/><text x="251" y="1021">numérotation des<tspan x="251" dy="14.5">gobules rouges</tspan></text></g>
<g id="n_indi"><rect class="l" x="174" y="1067" width="126" height="26"/><text x="237" y="1084">indices globulaires</text></g>
<g id="n_hemo"><rect class="l" x="223" y="1132" width="92" height="28"/><text x="269" y="1150">hémoglobine</text></g>
<g id="n_frot"><rect class="l" x="826" y="985" width="90" height="27"/><text x="871" y="1002.5">frottis (FSC)</text></g>
<g id="n_up"><rect class="l" x="874" y="1087" width="22" height="25"/><text x="885" y="1103.5">↑</text></g>
<g id="n_vsed"><rect class="l" x="742" y="1122" width="147" height="40"/><text x="815.5" y="1138.75">vitesse sédimentation<tspan x="815.5" dy="14.5">des hématies</tspan></text></g>
<g id="n_acfo"><rect class="c" x="361" y="1095" width="109" height="42"/><text x="415.5" y="1112.75">acide folique<tspan x="415.5" dy="14.5">en grande dose</tspan></text></g>
<g id="n_decb"><rect class="c" x="313" y="813" width="98" height="27"/><text x="362" y="830.5">décifit en B12</text></g>
<g id="n_cyan"><rect class="c" x="298" y="883" width="119" height="27"/><text x="357.5" y="900.5">cyanocobalamine</text></g>
<g id="n_vb12"><rect class="c" x="133" y="886" width="94" height="24"/><text x="180" y="902">vitamine B12</text></g>
<g id="n_po"><rect class="c" x="203" y="924" width="32" height="25"/><text x="219" y="940.5">PO</text></g>
<g id="n_dose"><rect class="c" x="1" y="908" width="90" height="55"/><text x="46" y="925">dose très<tspan x="46" dy="14.5">élevée pour</tspan><tspan x="46" dy="14.5">fonctionner</tspan></text></g>
<g id="n_intr"><rect class="c" x="186" y="954" width="74" height="24"/><text x="223" y="970">intranasal</text></g>
<g id="n_sc"><rect class="c" x="278" y="957" width="32" height="23"/><text x="294" y="972.5">SC</text></g>
<g id="n_im"><rect class="c" x="325" y="957" width="30" height="23"/><text x="340" y="972.5">IM</text></g>
<g id="n_fati"><rect class="r" x="226" y="1248" width="57" height="27"/><text x="254.5" y="1265.5">fatigue</text></g>
<g id="n_hypx1"><rect class="r" x="304" y="1263" width="62" height="26"/><text x="335" y="1280">hypoxie</text></g>
<g id="n_insu"><rect class="r" x="389" y="1258" width="86" height="43"/><text x="432" y="1276">insuffisance<tspan x="432" dy="14.5">cardiaque</tspan></text></g>
<g id="n_aryt"><rect class="r" x="505" y="1273" width="68" height="26"/><text x="539" y="1290">arythmie</text></g>
<g id="n_demy"><rect class="r" x="605" y="1262" width="125" height="41"/><text x="667.5" y="1279">démyélisation des<tspan x="667.5" dy="14.5">neurones</tspan></text></g>
<g id="n_cyno"><rect class="r" x="174" y="1279" width="56" height="25"/><text x="202" y="1295.5">cynose</text></g>
<g id="n_pale"><rect class="r" x="163" y="1333" width="52" height="28"/><text x="189" y="1351">pâleur</text></g>
<g id="n_diff"><rect class="r" x="234" y="1355" width="140" height="29"/><text x="304" y="1373.5">difficulté respiratoire</text></g>
<g id="n_irre"><rect class="r" x="486" y="1362" width="82" height="26"/><text x="527" y="1379">irréversible</text></g>
<g id="n_vite"><rect class="r" x="620" y="1355" width="101" height="38"/><text x="670.5" y="1370.75">↓ vitesse des<tspan x="670.5" dy="14.5">influx nerveux</tspan></text></g>
<g id="n_fr1"><rect class="r" x="248" y="1435" width="42" height="25"/><text x="269" y="1451.5">↑ FR</text></g>
<g id="n_fc1"><rect class="r" x="312" y="1434" width="38" height="25"/><text x="331" y="1450.5">↑FC</text></g>
<g id="n_pa1"><rect class="r" x="318" y="1497" width="30" height="25"/><text x="333" y="1513.5">PA</text></g>
<g id="n_pare"><rect class="r" x="808" y="1202" width="84" height="29"/><text x="850" y="1220.5">paresthésie</text></g>
<g id="n_refl"><rect class="r" x="846" y="1261" width="145" height="26"/><text x="918.5" y="1278">↓ réflexes tendoniens</text></g>
<g id="n_memo"><rect class="r" x="846" y="1307" width="125" height="30"/><text x="908.5" y="1326">perte de mémoire</text></g>
<g id="n_humr"><rect class="r" x="814" y="1354" width="153" height="28"/><text x="890.5" y="1372">changement d'humeur</text></g>
<g id="n_hall"><rect class="r" x="841" y="1399" width="99" height="25"/><text x="890.5" y="1415.5">hallucinations</text></g>
<g id="n_psyc"><rect class="r" x="779" y="1434" width="70" height="26"/><text x="814" y="1451">psychose</text></g>
<g id="n_pa2"><rect class="r" x="1421" y="1070" width="42" height="24"/><text x="1442" y="1086">↓ PA</text></g>
<g id="n_cons"><rect class="r" x="2312" y="309" width="88" height="27"/><text x="2356" y="326.5">constipation</text></g>
<g id="n_vaso"><rect class="r" x="2448" y="256" width="204" height="28"/><text x="2550" y="274">↑ vasoconstriction périphérique</text></g>
<g id="n_fc2"><rect class="r" x="2608" y="301" width="42" height="24"/><text x="2629" y="317">↑ FC</text></g>
<g id="n_decl"><rect class="r" x="2404" y="352" width="183" height="42"/><text x="2495.5" y="369.75">déclenchements<tspan x="2495.5" dy="14.5">mécnismes compensatoires</tspan></text></g>
<g id="n_hypx2"><rect class="r" x="2403" y="422" width="62" height="26"/><text x="2434" y="439">hypoxie</text></g>
<g id="n_irri"><rect class="r" x="2532" y="416" width="139" height="40"/><text x="2601.5" y="432.75">↓ irrigation sanguine<tspan x="2601.5" dy="14.5">des tissus</tspan></text></g>
<g id="n_fr2"><rect class="r" x="2418" y="489" width="42" height="25"/><text x="2439" y="505.5">↑ FR</text></g>
<g id="n_sens"><rect class="r" x="2531" y="508" width="143" height="29"/><text x="2602.5" y="526.5">problèmes sensoriels</text></g>
</svg>
